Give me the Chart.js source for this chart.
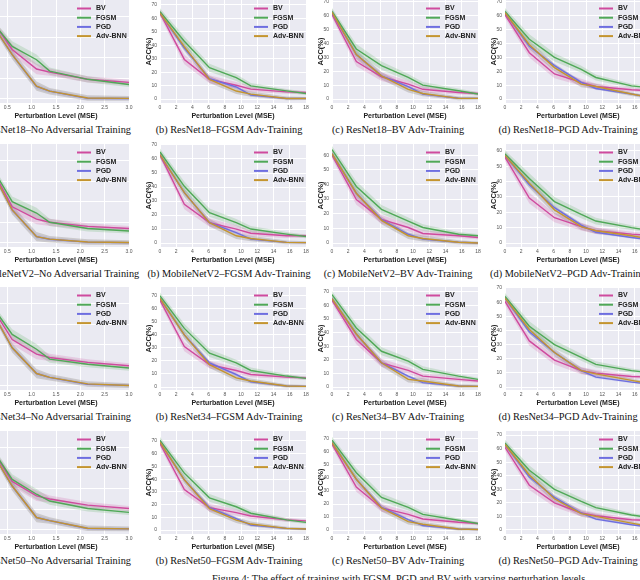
<!DOCTYPE html>
<html>
<head>
<meta charset="utf-8">
<script src="https://cdn.jsdelivr.net/npm/chart.js@4.4.1/dist/chart.umd.min.js"></script>
<style>
html, body { margin: 0; padding: 0; background: #fff; }
#fig { position: relative; width: 640px; height: 580px; overflow: hidden; }
.panel { position: absolute; }
.cap { position: absolute; font-family: "Liberation Serif", "Times New Roman", serif; font-size: 10.3px; color: #111; white-space: nowrap; transform: translateX(-50%); }
</style>
</head>
<body>
<div id="fig"></div>
<script>
// x positions of the perturbation levels
const xNoAdv = [0, 0.6, 1.1, 1.37, 2.15, 3.0];
const xAdv = [0, 3, 6.1, 9.4, 11.2, 15.6, 18];
const xTicksNoAdv = [0, 0.5, 1.0, 1.5, 2.0, 2.5, 3.0];
const xTicksAdv = [0, 2, 4, 6, 8, 10, 12, 14, 16, 18];
const yTicksNoAdv = [0, 20, 40, 60, 80];
const yTicksAdv = [0, 10, 20, 30, 40, 50, 60, 70];

const seriesNames = ['BV', 'FGSM', 'PGD', 'Adv-BNN'];
const models = ['ResNet18', 'MobileNetV2', 'ResNet34', 'ResNet50'];
const trainings = ['No Adversarial Training', 'FGSM Adv-Training', 'BV Adv-Training', 'PGD Adv-Training'];

// std band half-widths (ACC %)
const spreadNoAdv = [2, 5, 5, 3.5, 3, 2.5];
const spreadAdv = [2.5, 3.5, 3, 2.5, 2.2, 1.5, 1.2];

// each panel: [BV, FGSM, PGD, Adv-BNN]
const r18None = [
    [89, 48, 29, 26, 19, 16],
    [86, 51, 38, 27, 19, 14],
    [86, 43, 12, 7.5, 0.5, 0.3],
    [86, 43, 12.3, 7.5, 0.8, 0.5]
];
const r18Fgsm = [
    [64, 29.5, 14.7, 10.3, 7.4, 5.4, 4.9],
    [65, 43, 23.3, 16, 9.8, 6.1, 4.2],
    [64, 38, 15.2, 9, 3, 0.5, 0.5],
    [64, 39, 14.7, 6, 3.7, 0.5, 0.5]
];
const r18Bv = [
    [60.7, 27, 16, 10.7, 7, 4.7, 4],
    [63, 36, 24, 15.5, 10, 6, 3.6],
    [62, 32, 16.7, 9, 3.5, 0.6, 0.5],
    [62.4, 32, 16.7, 7, 4, 0.5, 0.5]
];
const r18Pgd = [
    [60.7, 33.3, 18, 12, 9, 6.7, 6],
    [63, 43, 30, 21.4, 15.5, 9.5, 8],
    [62, 38, 24, 12, 7.6, 3.6, 1],
    [62, 39, 22.6, 10.7, 9, 3.6, 1]
];
const mobNone = [
    [88, 35, 23, 20, 16, 14],
    [88, 40, 29, 20, 14, 11.6],
    [86, 32, 6, 3.5, 0.7, 0.2],
    [86, 32, 6, 3.6, 0.8, 0.3]
];
const mobFgsm = [
    [63, 27.6, 14.6, 10, 7, 5.2, 5.2],
    [65, 40.5, 21.7, 14.6, 10, 6.4, 4.7],
    [63, 36, 14.6, 7.5, 2.8, 0.5, 0.3],
    [63, 36, 14.6, 5.2, 3.3, 0.5, 0.3]
];
const mobBv = [
    [60, 29.7, 16.2, 10.6, 6.5, 5, 3.8],
    [63.8, 38.6, 23, 15, 10.6, 6, 5],
    [61, 34, 16, 6, 2.7, 0.5, 0],
    [61, 34, 15.5, 5, 3.1, 0.5, 0]
];
const mobPgd = [
    [56, 29.3, 16.5, 10.7, 8, 5.8, 5],
    [58, 42, 27, 18.6, 14.3, 10, 8],
    [57, 38, 23, 11.6, 7, 3.6, 2],
    [57, 39, 21.6, 10.7, 8, 4.7, 2.5]
];
const r34None = [
    [90, 45, 30.8, 27.6, 22.8, 19.5],
    [90, 50, 35.6, 26, 21, 17.3],
    [88, 37, 12, 8.3, 1.5, 0.5],
    [88, 37, 12, 8.3, 1.9, 0.3]
];
const r34Fgsm = [
    [66.6, 31, 17.2, 12.7, 9.6, 7.6, 7],
    [70, 45, 26, 18.5, 12.7, 8.4, 6.6],
    [68, 40, 18.5, 9.6, 4, 0.8, 0.5],
    [68, 40, 17.2, 7, 4.6, 0.8, 0.5]
];
const r34Bv = [
    [64, 35, 17.8, 12.2, 8, 5.6, 4.4],
    [68, 43.4, 26.3, 19, 13, 8, 5.6],
    [65, 39, 17.8, 8, 3.2, 0.7, 0.5],
    [65, 39, 17.8, 5.6, 4.4, 0.7, 0.5]
];
const r34Pgd = [
    [60.5, 32.6, 19, 11.6, 9.8, 7.4, 7],
    [64, 43, 30, 21, 16, 11.6, 10],
    [62.8, 39, 24.4, 11.6, 7, 3.5, 2],
    [62.8, 40.7, 24.4, 11.6, 9.3, 4.7, 2.3]
];
const r50None = [
    [92, 47, 33, 30, 24, 20.8],
    [92, 49, 34.6, 28, 20.8, 17],
    [90, 42.6, 12, 9, 1.3, 1],
    [90, 42.6, 12, 9, 1.6, 1]
];
const r50Fgsm = [
    [68, 31.8, 17.6, 13.7, 11, 8, 7.2],
    [70.5, 44.7, 25.3, 18.3, 13.2, 8, 6],
    [69, 39.5, 17.6, 9, 3.9, 1.3, 0.8],
    [69, 39.5, 16.8, 7.8, 4.7, 1.3, 0.8]
];
const r50Bv = [
    [66, 33, 17, 12, 8.5, 6, 5],
    [69, 44, 25, 17.5, 12, 7.5, 5],
    [67, 39, 17.5, 8, 3.5, 0.8, 0.5],
    [67, 39, 17, 6.5, 4.5, 0.8, 0.5]
];
const r50Pgd = [
    [61, 33, 20, 12.5, 10.5, 7.5, 7],
    [64, 44, 30, 21, 16.5, 11, 9],
    [63, 39, 24, 12.5, 8, 3.8, 2],
    [63, 40.5, 23, 12, 10, 5, 2.3]
];

const grid = [
    [r18None, r18Fgsm, r18Bv, r18Pgd],
    [mobNone, mobFgsm, mobBv, mobPgd],
    [r34None, r34Fgsm, r34Bv, r34Pgd],
    [r50None, r50Fgsm, r50Bv, r50Pgd]
];
// y axis ranges per panel [min, max]
const yRanges = [
    [[-4, 96], [-2.9, 73.7], [-2.85, 71.2], [-2.85, 71.2]],
    [[-4, 96], [-2.8, 70.7], [-2.7, 67.6], [-2.6, 64.5]],
    [[-4, 96], [-2.3, 76.8], [-2.2, 73.6], [-2.1, 70.7]],
    [[-4, 96], [-3.1, 77.8], [-3, 76], [-3, 73]]
];

const lineColors = ['#cf4a9e', '#4fa857', '#6e6ee0', '#c4952f'];
const bandColors = ['rgba(207,74,158,0.2)', 'rgba(79,168,87,0.2)', 'rgba(110,110,224,0.13)', 'rgba(105,95,85,0.24)'];
const bandScale = [1, 1, 0.5, 0.9];

const colLeft = [-17, 160, 332, 505];
const rowTop = [0, 144, 287, 431];
const capCenter = [51, 229, 398, 568];
const PLOT_W = 146, PLOT_H = 104;
const AXIS_W = 16, AXIS_H = 17, PAD_R = 8, PAD_T = 5;
const sans = '"Liberation Sans", Arial, sans-serif';

const fig = document.getElementById('fig');

const bgPlugin = {
    id: 'bg',
    beforeDraw(chart) {
        const a = chart.chartArea, ctx = chart.ctx;
        ctx.save();
        ctx.fillStyle = '#eaeaf2';
        ctx.fillRect(a.left, a.top, a.right - a.left, a.bottom - a.top);
        ctx.restore();
    }
};

const legendPlugin = {
    id: 'inlegend',
    afterDatasetsDraw(chart) {
        const a = chart.chartArea, ctx = chart.ctx;
        ctx.save();
        ctx.font = 'bold 7px ' + sans;
        ctx.textBaseline = 'middle';
        seriesNames.forEach((name, i) => {
            const y = a.top + 8.5 + i * 9.2;
            ctx.strokeStyle = lineColors[i];
            ctx.lineWidth = 2;
            ctx.beginPath();
            ctx.moveTo(a.left + 94, y);
            ctx.lineTo(a.left + 108, y);
            ctx.stroke();
            ctx.fillStyle = '#222';
            ctx.fillText(name, a.left + 113, y);
        });
        ctx.restore();
    }
};

function makePanel(r, c) {
    const vals = grid[r][c];
    const xs = c === 0 ? xNoAdv : xAdv;
    const sd = c === 0 ? spreadNoAdv : spreadAdv;
    const yTicks = c === 0 ? yTicksNoAdv : yTicksAdv;
    const [yMin, yMax] = yRanges[r][c];

    const wrap = document.createElement('div');
    wrap.className = 'panel';
    const canvas = document.createElement('canvas');
    const W = AXIS_W + PLOT_W + PAD_R, H = PAD_T + PLOT_H + AXIS_H;
    canvas.width = W; canvas.height = H;
    canvas.style.width = W + 'px'; canvas.style.height = H + 'px';
    wrap.appendChild(canvas);
    fig.appendChild(wrap);

    const datasets = [];
    seriesNames.forEach((name, i) => {
        datasets.push({
            label: name,
            data: xs.map((x, k) => ({ x: x, y: vals[i][k] })),
            borderColor: lineColors[i],
            borderWidth: 1.4,
            pointRadius: 0,
            fill: false,
            order: 3 - i
        });
    });
    seriesNames.forEach((name, i) => {
        datasets.push({
            label: '_hi',
            data: xs.map((x, k) => ({ x: x, y: vals[i][k] + sd[k] * bandScale[i] })),
            borderWidth: 0, pointRadius: 0, fill: false, order: 10
        });
        datasets.push({
            label: '_lo',
            data: xs.map((x, k) => ({ x: x, y: Math.max(vals[i][k] - sd[k] * bandScale[i], yMin + 0.5) })),
            borderWidth: 0, pointRadius: 0, fill: '-1',
            backgroundColor: bandColors[i], order: 10
        });
    });

    const chart = new Chart(canvas, {
        type: 'line',
        data: { datasets: datasets },
        options: {
            responsive: false,
            animation: false,
            devicePixelRatio: 1,
            layout: { padding: { left: 0, right: PAD_R, top: PAD_T, bottom: 0 } },
            plugins: {
                legend: { display: false },
                tooltip: { enabled: false },
                filler: { propagate: false, drawTime: 'beforeDatasetsDraw' }
            },
            scales: {
                x: {
                    type: 'linear',
                    min: 0,
                    max: c === 0 ? 3 : 18,
                    afterBuildTicks: s => { s.ticks = (c === 0 ? xTicksNoAdv : xTicksAdv).map(v => ({ value: v })); },
                    afterFit: s => { s.height = AXIS_H; },
                    ticks: {
                        font: { size: 5, family: sans }, color: '#555', padding: 2,
                        maxRotation: 0, autoSkip: false,
                        callback: v => c === 0 ? Number(v).toFixed(1) : v
                    },
                    grid: { color: '#ffffff', lineWidth: 1, drawTicks: false },
                    border: { display: false },
                    title: { display: true, text: 'Perturbation Level (MSE)', color: '#222',
                        font: { size: 7, weight: 'bold', family: sans }, padding: 0 }
                },
                y: {
                    min: yMin,
                    max: yMax,
                    afterBuildTicks: s => { s.ticks = yTicks.filter(v => v <= yMax).map(v => ({ value: v })); },
                    afterFit: s => { s.width = AXIS_W; },
                    ticks: { font: { size: 5, family: sans }, color: '#555', padding: 3, autoSkip: false },
                    grid: { color: '#ffffff', lineWidth: 1, drawTicks: false },
                    border: { display: false },
                    title: { display: true, text: 'ACC(%)', color: '#222',
                        font: { size: 7.5, weight: 'bold', family: sans }, padding: 0 }
                }
            }
        },
        plugins: [bgPlugin, legendPlugin]
    });

    const ca = chart.chartArea;
    wrap.style.left = (colLeft[c] - ca.left) + 'px';
    wrap.style.top = (rowTop[r] - ca.top) + 'px';

    const cap = document.createElement('div');
    cap.className = 'cap';
    cap.textContent = '(' + 'abcd'[c] + ') ' + models[r] + '\u2013' + trainings[c];
    cap.style.left = capCenter[c] + 'px';
    cap.style.top = (rowTop[r] + PLOT_H + 20) + 'px';
    fig.appendChild(cap);
}

for (let r = 0; r < 4; r++) {
    for (let c = 0; c < 4; c++) {
        makePanel(r, c);
    }
}

const figCap = document.createElement('div');
figCap.className = 'cap';
figCap.style.transform = 'none';
figCap.style.left = '212px';
figCap.style.top = '573px';
figCap.textContent = 'Figure 4: The effect of training with FGSM, PGD and BV with varying perturbation levels.';
fig.appendChild(figCap);
</script>
</body>
</html>
